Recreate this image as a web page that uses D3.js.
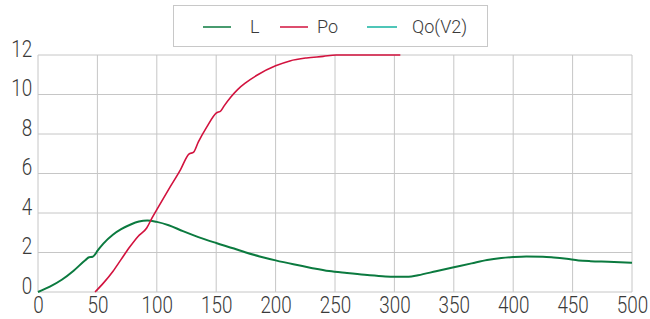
<!DOCTYPE html>
<html>
<head>
<meta charset="utf-8">
<script src="https://cdn.jsdelivr.net/npm/d3@7"></script>
<style>
  body { margin: 0; background: #fff; }
  svg text { font-family: "Roboto", sans-serif; font-weight: 300; fill: #3a3a3a; }
</style>
</head>
<body>
<div id="chart"></div>
<script>
// series
let lX = [0, 10, 20, 30, 40, 43, 46, 48, 50, 55, 63, 70, 78, 85, 92, 100, 110, 122, 135, 150, 165, 175, 190, 200, 215, 230, 245, 260, 275, 290, 300, 312, 320, 335, 350, 365, 378, 390, 400, 411, 425, 434, 445, 455, 465, 480, 500];
let lY = [0, 0.27, 0.62, 1.08, 1.62, 1.76, 1.78, 1.9, 2.08, 2.45, 2.9, 3.18, 3.42, 3.57, 3.62, 3.55, 3.38, 3.08, 2.78, 2.48, 2.2, 2.0, 1.75, 1.6, 1.4, 1.22, 1.06, 0.96, 0.87, 0.8, 0.77, 0.77, 0.85, 1.05, 1.25, 1.45, 1.62, 1.72, 1.77, 1.8, 1.79, 1.75, 1.68, 1.6, 1.56, 1.53, 1.48];

let poX = [48, 55, 63, 70, 77.5, 84, 91.5, 96, 100, 110, 120, 127, 131, 135, 142, 150, 154, 157, 162, 168, 175, 185, 200, 212, 226, 240, 251, 280, 305];
let poY = [0, 0.45, 1.04, 1.65, 2.3, 2.8, 3.24, 3.75, 4.17, 5.2, 6.2, 6.98, 7.08, 7.6, 8.35, 9.06, 9.18, 9.45, 9.85, 10.25, 10.6, 11.0, 11.45, 11.7, 11.85, 11.93, 12.0, 12.0, 12.0];

// Qo(V2) has no visible points in the chart
let qoX = [];
let qoY = [];

let xTicks = [0, 50, 100, 150, 200, 250, 300, 350, 400, 450, 500];
let yTicks = [0, 2, 4, 6, 8, 10, 12];

let seriesNames = ['L', 'Po', 'Qo(V2)'];
let seriesColors = ['#0b7a3f', '#d2123e', '#14b3a0'];

let width = 650,
    height = 319,
    margins = { top: 55, right: 18, bottom: 27, left: 38 };

let zip = (xs, ys) => xs.map((x, i) => [x, ys[i]]);
let series = [zip(lX, lY), zip(poX, poY), zip(qoX, qoY)];

let $svg = d3.select('#chart').append('svg')
  .attr('width', width)
  .attr('height', height);

let x = d3.scaleLinear()
  .domain([0, 500])
  .range([margins.left, width - margins.right]);

let y = d3.scaleLinear()
  .domain([0, 12])
  .range([height - margins.bottom, margins.top]);

// grid
$svg.append('g')
  .selectAll('line')
  .data(xTicks)
  .enter()
  .append('line')
  .attr('x1', d => x(d)).attr('x2', d => x(d))
  .attr('y1', y(0)).attr('y2', y(12))
  .style('stroke', '#c6c6c6');

$svg.append('g')
  .selectAll('line')
  .data(yTicks)
  .enter()
  .append('line')
  .attr('x1', x(0)).attr('x2', x(500))
  .attr('y1', d => y(d)).attr('y2', d => y(d))
  .style('stroke', '#c6c6c6');

// axes (labels only, lines come from the grid)
let xAxis = $svg.append('g')
  .attr('transform', `translate(0,${y(0)})`)
  .call(d3.axisBottom(x).tickValues(xTicks).tickSize(0).tickPadding(5));
xAxis.select('.domain').remove();
xAxis.selectAll('text')
  .attr('dy', '0.71em')
  .attr('transform', 'scale(0.82,1)')
  .style('font-size', '23px')
  .style('font-family', null);

let yAxis = $svg.append('g')
  .attr('transform', `translate(${x(0)},0)`)
  .call(d3.axisLeft(y).tickValues(yTicks).tickSize(0).tickPadding(7));
yAxis.select('.domain').remove();
yAxis.selectAll('text')
  .attr('dy', '0.05em')
  .attr('transform', 'scale(0.82,1)')
  .style('font-size', '23px')
  .style('font-family', null);

// lines
let line = d3.line()
  .x(d => x(d[0]))
  .y(d => y(d[1]))
  .curve(d3.curveMonotoneX);

$svg.append('g')
  .selectAll('path')
  .data(series)
  .enter()
  .append('path')
  .attr('d', line)
  .style('fill', 'none')
  .style('stroke', (d, i) => seriesColors[i])
  .style('stroke-width', (d, i) => i === 0 ? 2 : 1.6);

// legend
let $legend = $svg.append('g');

$legend.append('rect')
  .attr('x', 173.5).attr('y', 5.5)
  .attr('width', 314).attr('height', 41)
  .style('fill', '#fff')
  .style('stroke', '#c8c8c8');

let legendX = [203, 280, 367];
let labelX = [47, 37, 45];

let $items = $legend.selectAll('.item')
  .data(seriesNames)
  .enter()
  .append('g')
  .attr('transform', (d, i) => `translate(${legendX[i]},27)`);

$items.append('line')
  .attr('x1', 0).attr('x2', (d, i) => i === 2 ? 30 : 28)
  .style('stroke', (d, i) => seriesColors[i])
  .style('stroke-width', 1.5);

$items.append('text')
  .attr('x', (d, i) => labelX[i])
  .attr('dy', '0.35em')
  .style('font-size', '18px')
  .text(d => d);
</script>
</body>
</html>
